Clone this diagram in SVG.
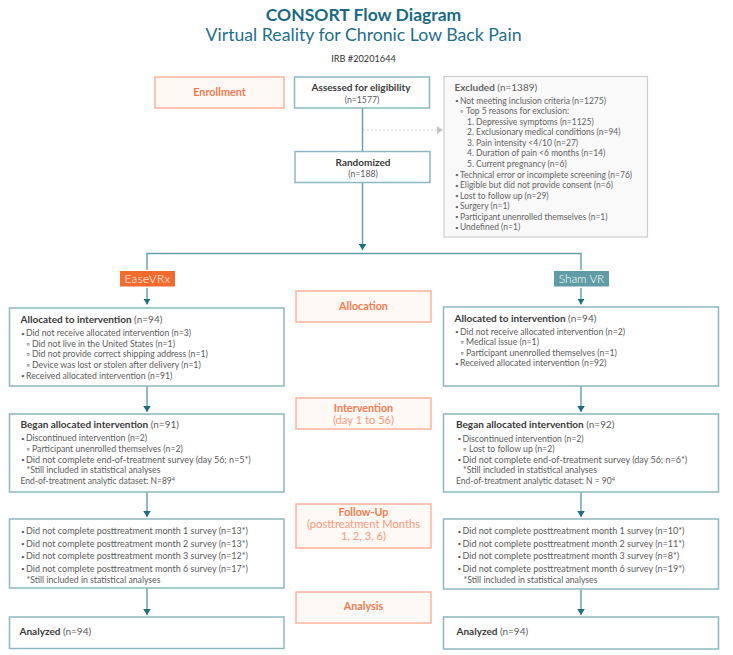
<svg xmlns="http://www.w3.org/2000/svg" width="733" height="655" viewBox="0 0 733 655">
<style>
text{font-family:"Lato","Noto Sans",sans-serif;fill:#5c5c5c;font-size:8.7px}
.h{font-weight:700;fill:#3a3a3a;font-size:10px}
.r{fill:#5c5c5c;font-weight:400}
.b{font-size:6.500px}
.w{font-size:9px}
.e{font-size:8.500px}
.box{fill:#fff;stroke:#8db8c2;stroke-width:1.5}
.side{fill:#fff9f6;stroke:#ffb399;stroke-width:1.5}
.sl{fill:#f47c4e;font-weight:700;font-size:10.800px;text-anchor:middle}
.ss{fill:#f79a78;font-size:11.200px;text-anchor:middle}
.c{text-anchor:middle}
.link{fill:none;stroke:#5f9fad;stroke-width:1.4}
.ex{fill:#636363;font-size:8.500px}
</style>
<defs>
<marker id="arr" markerUnits="userSpaceOnUse" markerWidth="7" markerHeight="8" refX="6" refY="4" orient="auto"><path d="M0 0.200L6 4L0 7.800Z" fill="#1f6f80"/></marker>
<marker id="arrg" markerUnits="userSpaceOnUse" markerWidth="7" markerHeight="8" refX="6" refY="4" orient="auto"><path d="M0 0L6 4L0 8Z" fill="#c4c4c4"/></marker>
</defs>
<rect width="733" height="655" fill="#fff"/>
<g id="title">
<text x="363.500" y="20.500" class="c" style="font-size:17.500px;font-weight:700;fill:#1a6a86">CONSORT Flow Diagram</text>
<text x="363.500" y="41" class="c" style="font-size:17.700px;fill:#1f6f8b">Virtual Reality for Chronic Low Back Pain</text>
<text x="363.500" y="62" class="c" style="font-size:9.200px;fill:#333">IRB #20201644</text>
</g>
<g id="connectors">
<path class="link" d="M362.500 108V152"/>
<path class="link" d="M147 270V253.500H581V270"/>
<path class="link" d="M362.500 182V250" marker-end="url(#arr)"/>
<path d="M363 130H443" fill="none" stroke="#cfcfcf" stroke-width="1" stroke-dasharray="2 2" marker-end="url(#arrg)"/>
<path class="link" d="M147 288V304.500" marker-end="url(#arr)"/>
<path class="link" d="M147 386V412" marker-end="url(#arr)"/>
<path class="link" d="M147 492V517" marker-end="url(#arr)"/>
<path class="link" d="M147 588V615" marker-end="url(#arr)"/>
<path class="link" d="M581 288V304.500" marker-end="url(#arr)"/>
<path class="link" d="M581 386V412" marker-end="url(#arr)"/>
<path class="link" d="M581 492V517" marker-end="url(#arr)"/>
<path class="link" d="M581 589V615" marker-end="url(#arr)"/>
</g>
<g id="enrollment"><rect class="side" x="155" y="77" width="129" height="31"/><text class="sl" x="219.500" y="96">Enrollment</text></g>
<g id="assessed"><rect class="box" x="294.500" y="77" width="135" height="31"/><text class="h c" x="361" y="91">Assessed for eligibility</text><text class="c" x="362" y="102.500">(n=1577)</text></g>
<g id="randomized"><rect class="box" x="295" y="151.500" width="135" height="31"/><text class="h c" x="363" y="165.500">Randomized</text><text class="c" x="363" y="176.500">(n=188)</text></g>
<g id="excluded"><rect x="444" y="76.500" width="203.500" height="160.500" fill="#f9f9f9" stroke="#cdcdcd" stroke-width="1.200"/>
<text x="454.500" y="91" class="h ex" style="font-size:10px">Excluded <tspan class="r">(n=1389)</tspan></text>
<text class="ex">
<tspan class="b" x="455" y="103">•</tspan><tspan x="460" y="103.500">Not meeting inclusion criteria (n=1275)</tspan>
<tspan x="460" y="114">◦</tspan><tspan x="466" y="114">Top 5 reasons for exclusion:</tspan>
<tspan x="467" y="124.500">1.  Depressive symptoms (n=1125)</tspan>
<tspan x="467" y="135">2. Exclusionary medical conditions (n=94)</tspan>
<tspan x="467" y="145.500">3. Pain intensity &lt;4/10 (n=27)</tspan>
<tspan x="467" y="156">4. Duration of pain &lt;6 months (n=14)</tspan>
<tspan x="467" y="167">5. Current pregnancy (n=6)</tspan>
<tspan class="b" x="455" y="177">•</tspan><tspan x="460" y="177.500">Technical error or incomplete screening (n=76)</tspan>
<tspan class="b" x="455" y="187.500">•</tspan><tspan x="460" y="188">Eligible but did not provide consent (n=6)</tspan>
<tspan class="b" x="455" y="198">•</tspan><tspan x="460" y="198.500">Lost to follow up (n=29)</tspan>
<tspan class="b" x="455" y="208.500">•</tspan><tspan x="460" y="209">Surgery (n=1)</tspan>
<tspan class="b" x="455" y="219">•</tspan><tspan x="460" y="219.500">Participant unenrolled themselves (n=1)</tspan>
<tspan class="b" x="455" y="229.500">•</tspan><tspan x="460" y="230">Undefined (n=1)</tspan>
</text></g>
<g id="easevrx"><rect x="120" y="271" width="55" height="15.500" fill="#f26b2d"/><text x="147.500" y="283" class="c" style="fill:#fff;font-size:12px;font-weight:300;letter-spacing:.3px">EaseVRx</text></g>
<g id="shamvr"><rect x="554" y="271" width="55" height="15.500" fill="#5f9ca6"/><text x="581.500" y="283" class="c" style="fill:#fff;font-size:11.800px;font-weight:300">Sham VR</text></g>
<g id="allocation"><rect class="side" x="296" y="291" width="135" height="31"/><text class="sl" x="363.500" y="310">Allocation</text></g>
<g id="intervention"><rect class="side" x="296" y="398" width="135" height="31"/><text class="sl" x="363.500" y="412">Intervention</text><text class="ss" x="363.500" y="424">(day 1 to 56)</text></g>
<g id="followup"><rect class="side" x="296" y="504" width="135" height="44"/><text class="sl" x="363.500" y="516">Follow-Up</text><text class="ss" x="363.500" y="528">(posttreatment Months</text><text class="ss" x="363.500" y="540">1, 2, 3, 6)</text></g>
<g id="analysis"><rect class="side" x="296" y="592" width="135" height="31"/><text class="sl" x="363.500" y="610">Analysis</text></g>
<g id="left-allocated"><rect class="box" x="9.500" y="308" width="274.500" height="78"/>
<text x="20.500" y="323" class="h">Allocated to intervention <tspan class="r">(n=94)</tspan></text>
<text>
<tspan class="b" x="21" y="335.500">•</tspan><tspan x="26" y="336">Did not receive allocated intervention (n=3)</tspan>
<tspan x="26.500" y="346.500">◦</tspan><tspan x="32" y="346.500">Did not live in the United States (n=1)</tspan>
<tspan x="26.500" y="357">◦</tspan><tspan x="32" y="357">Did not provide correct shipping address (n=1)</tspan>
<tspan x="26.500" y="368">◦</tspan><tspan x="32" y="368">Device was lost or stolen after delivery (n=1)</tspan>
<tspan class="b" x="21" y="378">•</tspan><tspan x="26" y="378.500">Received allocated intervention (n=91)</tspan>
</text></g>
<g id="left-began"><rect class="box" x="9.500" y="414" width="274.500" height="78"/>
<text x="20.500" y="428" class="h">Began allocated intervention <tspan class="r">(n=91)</tspan></text>
<text>
<tspan class="b" x="21" y="440.500">•</tspan><tspan x="26" y="441">Discontinued intervention (n=2)</tspan>
<tspan x="26.500" y="452">◦</tspan><tspan x="32" y="452">Participant unenrolled themselves (n=2)</tspan>
<tspan class="b" x="21" y="462">•</tspan><tspan class="w" x="26" y="462.500">Did not complete end-of-treatment survey (day 56; n=5*)</tspan>
<tspan x="26.500" y="473">*Still included in statistical analyses</tspan>
<tspan class="e" x="20.500" y="484">End-of-treatment analytic dataset:  N=89</tspan><tspan dy="-3" style="font-size:5.500px">4</tspan>
</text></g>
<g id="left-followup"><rect class="box" x="9.500" y="519" width="274.500" height="69"/>
<text class="w">
<tspan class="b" x="21" y="533.500">•</tspan><tspan x="26" y="534">Did not complete posttreatment month 1 survey (n=13*)</tspan>
<tspan class="b" x="21" y="546">•</tspan><tspan x="26" y="546.500">Did not complete posttreatment month 2 survey (n=13*)</tspan>
<tspan class="b" x="21" y="558.500">•</tspan><tspan x="26" y="559">Did not complete posttreatment month 3 survey (n=12*)</tspan>
<tspan class="b" x="21" y="571">•</tspan><tspan x="26" y="571.500">Did not complete posttreatment month 6 survey (n=17*)</tspan>
<tspan style="font-size:8.700px" x="26.500" y="582.500">*Still included in statistical analyses</tspan>
</text></g>
<g id="left-analyzed"><rect class="box" x="9.500" y="617" width="274.500" height="31.500"/><text x="19.500" y="635" class="h">Analyzed <tspan class="r">(n=94)</tspan></text></g>
<g id="right-allocated"><rect class="box" x="443.500" y="307" width="275" height="79"/>
<text x="454.500" y="322" class="h">Allocated to intervention <tspan class="r">(n=94)</tspan></text>
<text>
<tspan class="b" x="455" y="334">•</tspan><tspan x="460" y="334.500">Did not receive allocated intervention (n=2)</tspan>
<tspan x="460.500" y="345">◦</tspan><tspan x="466" y="345">Medical issue (n=1)</tspan>
<tspan x="460.500" y="355.500">◦</tspan><tspan x="466" y="355.500">Participant unenrolled themselves (n=1)</tspan>
<tspan class="b" x="455" y="365.500">•</tspan><tspan x="460" y="366">Received allocated intervention (n=92)</tspan>
</text></g>
<g id="right-began"><rect class="box" x="443.500" y="414" width="275" height="78"/>
<text x="456" y="428" class="h">Began allocated intervention <tspan class="r">(n=92)</tspan></text>
<text>
<tspan class="b" x="457.500" y="441">•</tspan><tspan x="462.500" y="441.500">Discontinued intervention (n=2)</tspan>
<tspan x="463" y="452">◦</tspan><tspan x="469" y="452">Lost to follow up (n=2)</tspan>
<tspan class="b" x="457.500" y="462">•</tspan><tspan class="w" x="462.500" y="462.500">Did not complete end-of-treatment survey (day 56; n=6*)</tspan>
<tspan x="463" y="473">*Still included in statistical analyses</tspan>
<tspan class="e" x="456" y="484">End-of-treatment analytic dataset:  N = 90</tspan><tspan dy="-3" style="font-size:5.500px">4</tspan>
</text></g>
<g id="right-followup"><rect class="box" x="443.500" y="519" width="275" height="70"/>
<text class="w">
<tspan class="b" x="457.500" y="533.500">•</tspan><tspan x="462.500" y="534">Did not complete posttreatment month 1 survey (n=10*)</tspan>
<tspan class="b" x="457.500" y="546">•</tspan><tspan x="462.500" y="546.500">Did not complete posttreatment month 2 survey (n=11*)</tspan>
<tspan class="b" x="457.500" y="558.500">•</tspan><tspan x="462.500" y="559">Did not complete posttreatment month 3 survey (n=8*)</tspan>
<tspan class="b" x="457.500" y="571">•</tspan><tspan x="462.500" y="571.500">Did not complete posttreatment month 6 survey (n=19*)</tspan>
<tspan style="font-size:8.700px" x="463.500" y="582.500">*Still included in statistical analyses</tspan>
</text></g>
<g id="right-analyzed"><rect class="box" x="443.500" y="617" width="275" height="32"/><text x="456.500" y="635" class="h">Analyzed <tspan class="r">(n=94)</tspan></text></g>
</svg>
